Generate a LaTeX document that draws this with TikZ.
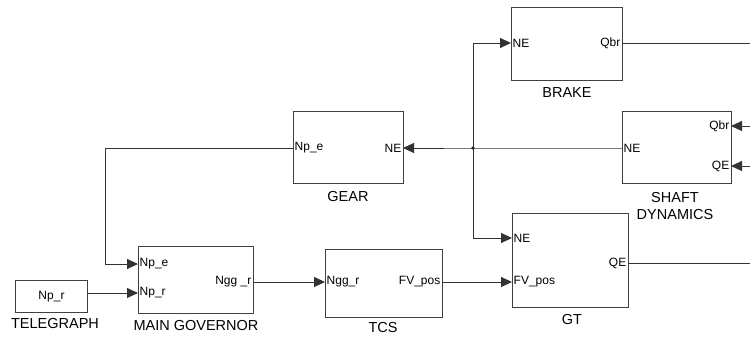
\documentclass[tikz,border=0pt]{standalone}
\usepackage{fontspec}
\setmainfont{Liberation Sans}
\usetikzlibrary{arrows.meta}
\begin{document}
\begin{tikzpicture}[x=1pt,y=-1pt,
  blk/.style={draw=black!75, line width=1pt, inner sep=0pt, anchor=north west},
  lport/.style={font=\fontsize{12}{14}\selectfont, inner sep=1.5pt, anchor=west},
  rport/.style={font=\fontsize{12}{14}\selectfont, inner sep=1.5pt, anchor=east},
  lbl/.style={font=\fontsize{14.5}{16}\selectfont, align=center, inner sep=0pt},
  wire/.style={draw=black!80, line width=0.9pt},
  arr/.style={wire, -{Triangle[length=11pt,width=10pt]}}]
\useasboundingbox (0,0) rectangle (750,338);
% blocks
\node[blk, minimum width=72pt, minimum height=32pt] (tel) at (15,280) {};
\node[blk, minimum width=115pt, minimum height=67pt] (mg) at (138,246) {};
\node[blk, minimum width=117pt, minimum height=68pt] (tcs) at (325,249) {};
\node[blk, minimum width=110pt, minimum height=72pt] (gear) at (293,111) {};
\node[blk, minimum width=111pt, minimum height=73pt] (brake) at (511,7) {};
\node[blk, minimum width=109pt, minimum height=72pt] (shaft) at (622,111) {};
\node[blk, minimum width=116pt, minimum height=94pt] (gt) at (512,213) {};
% port coordinates
\coordinate (telO) at (87,293);
\coordinate (mgNpe) at (138,264);
\coordinate (mgNpr) at (138,293);
\coordinate (mgO) at (253,282);
\coordinate (tcsI) at (325,282);
\coordinate (tcsO) at (442,282);
\coordinate (gtNE) at (512,238);
\coordinate (gtFV) at (512,282);
\coordinate (gtQE) at (628,263);
\coordinate (gearNpe) at (293,148);
\coordinate (gearNE) at (403,148);
\coordinate (brNE) at (511,43);
\coordinate (brQbr) at (622,43);
\coordinate (shNE) at (622,148);
\coordinate (shQbr) at (731,126);
\coordinate (shQE) at (731,166);
\coordinate (jn) at (473,148);
\coordinate (fbA) at (105,148);
\coordinate (fbB) at (105,264);
\coordinate (bTop) at (473,43);
\coordinate (bBot) at (473,238);
\coordinate (eBr) at (750,43);
\coordinate (eQbr) at (750,126);
\coordinate (eQE) at (750,166);
\coordinate (eGt) at (750,263);
% port labels
\node[font=\fontsize{12}{14}\selectfont] (telT) at (tel.center) {Np\_r};
\node[lport] (l1) at (mgNpe) {Np\_e};
\node[lport] (l2) at (mgNpr) {Np\_r};
\node[rport] (l3) at (mgO) {Ngg \_r};
\node[lport] (l4) at (tcsI) {Ngg\_r};
\node[rport] (l5) at (tcsO) {FV\_pos};
\node[lport] (l6) at (gtNE) {NE};
\node[lport] (l7) at (gtFV) {FV\_pos};
\node[rport] (l8) at (gtQE) {QE};
\node[lport] (l9) at (gearNpe) {Np\_e};
\node[rport] (l10) at (gearNE) {NE};
\node[lport] (l11) at (brNE) {NE};
\node[rport] (l12) at (brQbr) {Qbr};
\node[lport] (l13) at (shNE) {NE};
\node[rport] (l14) at (shQbr) {Qbr};
\node[rport] (l15) at (shQE) {QE};
% block labels
\node[lbl] (n1) at (55,324) {TELEGRAPH};
\node[lbl] (n2) at (196,326) {MAIN GOVERNOR};
\node[lbl] (n3) at (348,197) {GEAR};
\node[lbl] (n4) at (567,93) {BRAKE};
\node[lbl] (n5) at (675,206) {SHAFT\\[1pt]DYNAMICS};
\node[lbl] (n6) at (383,328) {TCS};
\node[lbl] (n7) at (572,320) {GT};
% connectors
\draw[arr] (telO) -- (mgNpr);
\draw[arr] (mgO) -- (tcsI);
\draw[arr] (tcsO) -- (gtFV);
\draw[arr] (gearNpe) -- (fbA) -- (fbB) -- (mgNpe);
\draw[arr] (shNE) -- (jn) -- (gearNE);
\draw[arr] (jn) -- (bTop) -- (brNE);
\draw[arr] (jn) -- (bBot) -- (gtNE);
\draw[wire] (brQbr) -- (eBr);
\draw[arr] (eQbr) -- (shQbr);
\draw[arr] (eQE) -- (shQE);
\draw[wire] (gtQE) -- (eGt);
\fill[black!85] (jn) circle (1.8pt);
\end{tikzpicture}
\end{document}
